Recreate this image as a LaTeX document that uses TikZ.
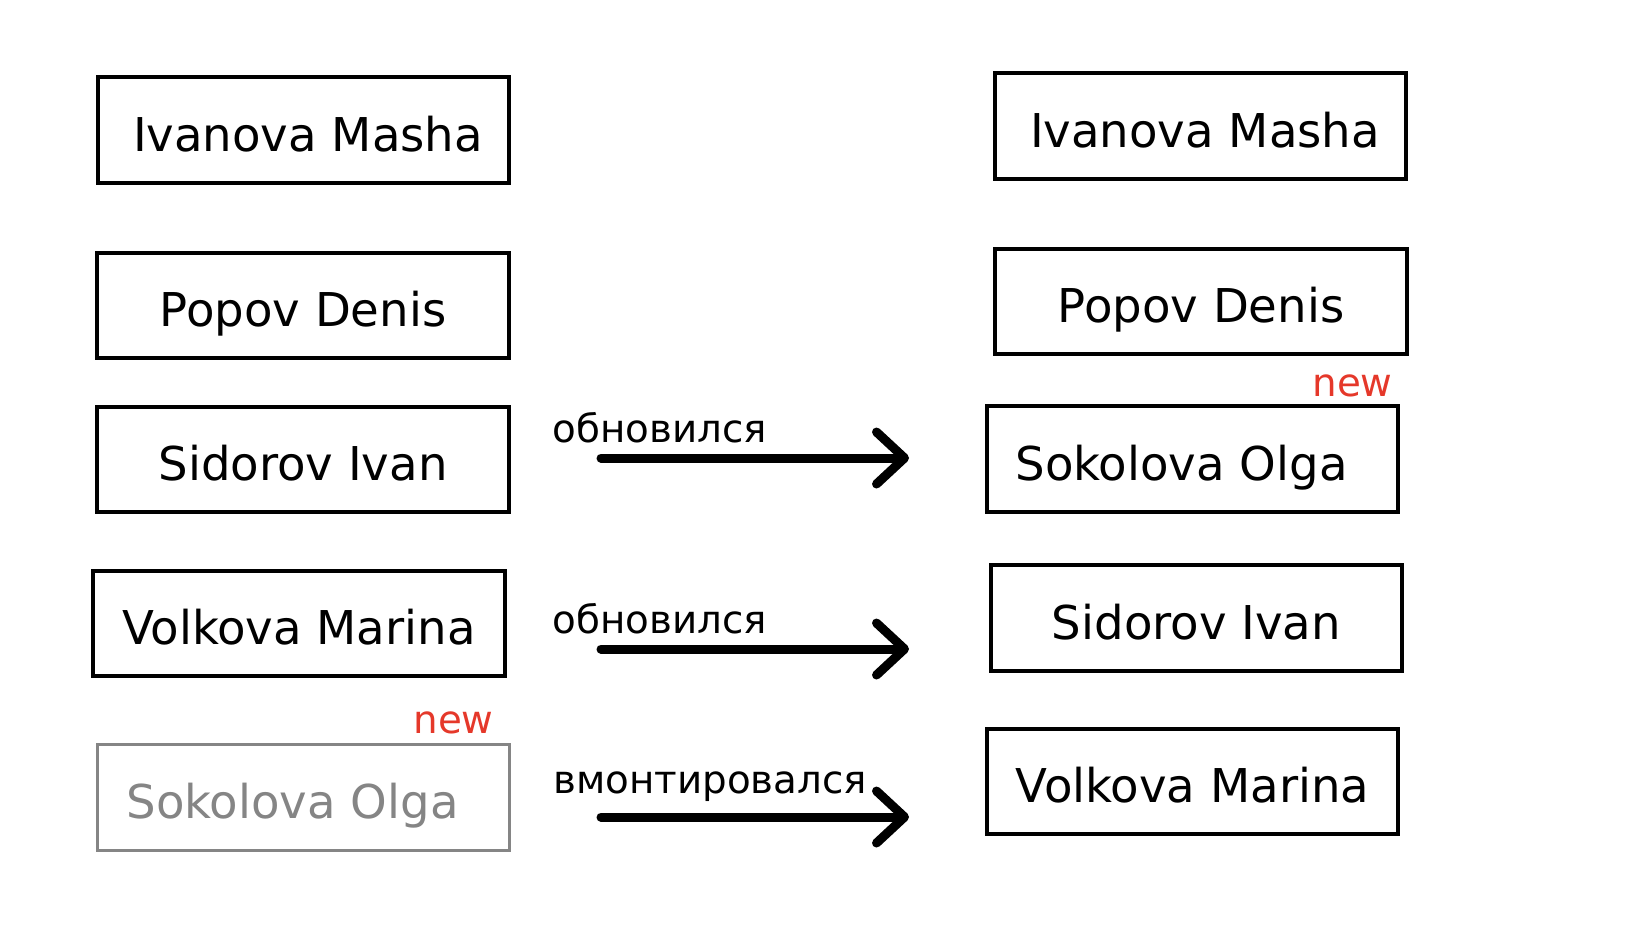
\documentclass[tikz,border=0pt]{standalone}
\usepackage{fontspec}
\setmainfont{DejaVu Sans}
\usetikzlibrary{arrows.meta}
\definecolor{boxgrey}{HTML}{858585}
\definecolor{newred}{HTML}{E5382A}
\newcommand{\padL}{\rule{4.5pt}{0pt}}
\newcommand{\padR}{\rule{11pt}{0pt}}
\tikzset{
  namebox/.style={draw=black, line width=1.8pt, minimum width=205.75pt, minimum height=52.75pt,
    inner sep=0pt, outer sep=0pt, font=\fontsize{23.3}{28}\selectfont, text height=23pt, text depth=2pt},
  oldbox/.style={namebox, draw=boxgrey, text=boxgrey, line width=1.5pt},
  lbl/.style={anchor=base west, inner sep=0pt, font=\fontsize{19.4}{23}\selectfont},
  newlbl/.style={lbl, text=newred},
  flow/.style={line width=4.5pt, line cap=round, -{Straight Barb[round,length=14pt,width=26pt]}}
}
\begin{document}
\begin{tikzpicture}[x=0.5pt, y=-0.5pt]
\useasboundingbox (0,0) rectangle (1642,950);
% left column
\node[namebox] (l1) at (303.5,130) {\padL Ivanova Masha};
\node[namebox] (l2) at (303,305.5) {Popov Denis};
\node[namebox] (l3) at (303,459.5) {Sidorov Ivan};
\node[namebox] (l4) at (299,623.5) {Volkova Marina};
\node[oldbox] (l5) at (303.5,797.5) {Sokolova Olga\padR};
\node[newlbl] (n1) at (413,733) {new};
% right column
\node[namebox] (r1) at (1200.5,126) {\padL Ivanova Masha};
\node[namebox] (r2) at (1201,301.5) {Popov Denis};
\node[namebox] (r3) at (1192.5,459) {Sokolova Olga\padR};
\node[namebox] (r4) at (1196.5,618) {Sidorov Ivan};
\node[namebox] (r5) at (1192.5,781.5) {Volkova Marina};
\node[newlbl] (n2) at (1312,396) {new};
% arrows
\coordinate (a1s) at (601,458); \coordinate (a1e) at (909,458);
\coordinate (a2s) at (601,649); \coordinate (a2e) at (909,649);
\coordinate (a3s) at (601,817); \coordinate (a3e) at (909,817);
\draw[flow] (a1s) -- (a1e);
\draw[flow] (a2s) -- (a2e);
\draw[flow] (a3s) -- (a3e);
\node[lbl] (t1) at (552,442) {обновился};
\node[lbl] (t2) at (552,633) {обновился};
\node[lbl] (t3) at (553,793) {вмонтировался};
\end{tikzpicture}
\end{document}
